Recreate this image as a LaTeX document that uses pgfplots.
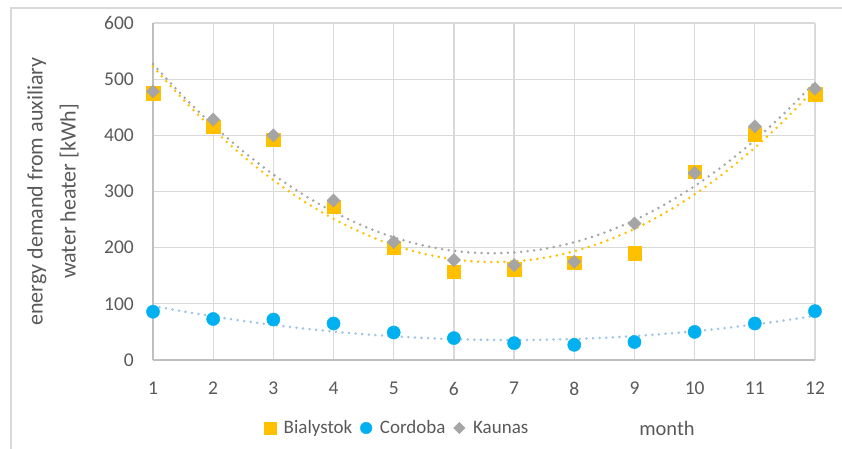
\documentclass[border=0pt]{standalone}
\usepackage{pgfplots}
\pgfplotsset{compat=1.18}
\usepackage{fontspec}
\setmainfont{Carlito}
\definecolor{cB}{HTML}{FFC000}
\definecolor{cC}{HTML}{00B0F0}
\definecolor{cK}{HTML}{A5A5A5}
\definecolor{cCt}{HTML}{9DC3E6}
\definecolor{cgrid}{HTML}{D9D9D9}
\definecolor{axl}{HTML}{BFBFBF}
\definecolor{txt}{HTML}{595959}
\begin{document}
\begin{tikzpicture}[x=1pt,y=1pt]
\path[use as bounding box] (0,0) rectangle (842,448);
\draw[cgrid, line width=1.3pt] (11,-5) -- (11,440) -- (850,440);
\begin{axis}[
  at={(153pt,88pt)}, anchor=south west,
  scale only axis, width=662pt, height=337pt,
  xmin=1, xmax=12, ymin=0, ymax=600,
  xtick={1,...,12}, ytick={0,100,...,600},
  axis x line=bottom, axis y line=left,
  axis line style={axl, line width=1.3pt, -},
  grid=major, major grid style={draw=cgrid, line width=1.2pt},
  major tick length=0pt,
  font=\fontsize{19}{23}\selectfont,
  tick label style={txt, font=\fontsize{19.5}{23}\selectfont},
  /pgf/number format/assume math mode=true,
  yticklabel style={anchor=east, inner sep=0pt, xshift=-19pt},
  xticklabel style={anchor=north, inner sep=0pt, yshift=-22pt},
  ylabel={energy demand from auxiliary\\water heater [kWh]},
  ylabel style={at={(axis description cs:-0.151,0.5)}, anchor=center, align=center, txt, font=\fontsize{22}{33}\selectfont},
  legend columns=3,
  legend style={at={(axis description cs:0.3686,-0.2018)}, anchor=center, draw=none, fill=none, font=\fontsize{19}{23}\selectfont, text=txt, column sep=6pt, inner sep=0pt},
  legend image code/.code={\draw[#1] plot coordinates {(0pt,0pt)};},
  legend cell align=left,
  clip=false,
]
\addplot[only marks, mark=square*, mark size=6.7pt, color=cB, mark options={draw=cB, fill=cB}, legend image post style={mark size=6pt}] coordinates {
(1,475)(2,415)(3,392)(4,273)(5,200)(6,157)(7,162)(8,173)(9,190)(10,335)(11,402)(12,473)};
\addlegendentry{Bialystok}
\addplot[only marks, mark=*, mark size=6.6pt, color=cC, mark options={draw=cC, fill=cC}, legend image post style={mark size=5.8pt}] coordinates {
(1,86)(2,73)(3,72)(4,65)(5,49)(6,39)(7,30)(8,27)(9,32)(10,50)(11,65)(12,87)};
\addlegendentry{Cordoba}
\addplot[only marks, mark=square*, mark size=4.7pt, color=cK, mark options={draw=cK, fill=cK, rotate=45}, legend image post style={mark size=4.1pt}] coordinates {
(1,478)(2,428)(3,400)(4,284)(5,210)(6,178)(7,169)(8,175)(9,243)(10,333)(11,416)(12,483)};
\addlegendentry{Kaunas}
% trendlines (2nd-order polynomial, as in the reference)
\addplot[forget plot, cB, line width=2.8pt, line cap=round, dash pattern=on 0pt off 6.6pt, smooth] coordinates {
(1,522.6)(1.5,463.9)(2,410.5)(2.5,362.6)(3,320.1)(3.5,283.1)(4,251.4)(4.5,225.2)(5,204.4)(5.5,189.1)(6,179.1)(6.5,174.6)(7,175.5)(7.5,181.9)(8,193.6)(8.5,210.8)(9,233.4)(9.5,261.5)(10,294.9)(10.5,333.8)(11,378.1)(11.5,427.9)(12,483.0)};
\addplot[forget plot, cK, line width=2.8pt, line cap=round, dash pattern=on 0pt off 6.6pt, smooth] coordinates {
(1,526.8)(1.5,469.7)(2,417.9)(2.5,371.4)(3,330.2)(3.5,294.3)(4,263.7)(4.5,238.4)(5,218.4)(5.5,203.7)(6,194.3)(6.5,190.2)(7,191.4)(7.5,197.8)(8,209.6)(8.5,226.7)(9,249.0)(9.5,276.7)(10,309.7)(10.5,347.9)(11,391.5)(11.5,440.3)(12,494.5)};
\addplot[forget plot, cCt, line width=2.8pt, line cap=round, dash pattern=on 0pt off 6.6pt, smooth] coordinates {
(1,96.2)(1.5,86.5)(2,77.6)(2.5,69.6)(3,62.4)(3.5,56.1)(4,50.6)(4.5,45.9)(5,42.2)(5.5,39.2)(6,37.2)(6.5,35.95)(7,35.6)(7.5,36.1)(8,37.4)(8.5,39.6)(9,42.6)(9.5,46.5)(10,51.2)(10.5,56.8)(11,63.3)(11.5,70.6)(12,78.7)};
\node[txt, font=\fontsize{20.5}{23}\selectfont, anchor=center] at (axis description cs:0.7764,-0.2018) {month};
\end{axis}
\end{tikzpicture}
\end{document}
